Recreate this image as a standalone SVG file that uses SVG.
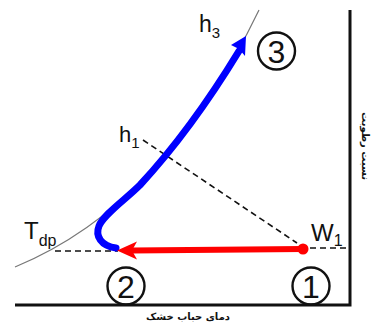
<svg xmlns="http://www.w3.org/2000/svg" width="373" height="326" viewBox="0 0 373 326">
<style>
.lbl{font-family:"Liberation Sans",Arial,sans-serif;fill:#111}
.num{font-family:"Liberation Sans",Arial,sans-serif;font-size:32px;fill:#111;text-anchor:middle}
.fa{font-family:"DejaVu Sans",sans-serif;font-size:10px;font-weight:bold;fill:#111;text-anchor:middle}
.dash{stroke:#111;stroke-width:1.6;stroke-dasharray:6,4;fill:none}
.circ{fill:none;stroke:#111;stroke-width:2.4}
</style>
<rect width="373" height="326" fill="#fff"/>
<g id="axes" fill="none" stroke="#111" stroke-width="3">
<polyline points="15,305 350,305 350,10"/>
</g>
<g id="saturation-curve">
<path d="M15,267 Q165,205 259,10" fill="none" stroke="#777" stroke-width="1.2"/>
</g>
<g id="connectors">
<line class="dash" x1="55" y1="251" x2="118" y2="251"/>
<line class="dash" x1="310" y1="248" x2="347" y2="248"/>
<line class="dash" x1="143" y1="140" x2="297" y2="243"/>
<path d="M116,248 C101,246 95,236 99,226 C104,214 125,200 140,185 C165,158 200,115 239,51" fill="none" stroke="#0000ff" stroke-width="7" stroke-linecap="round"/>
<polygon points="246,36 245,56 239,49 231,45" fill="#0000ff"/>
<line x1="303" y1="249" x2="132" y2="250.5" stroke="#ff0000" stroke-width="6"/>
<polygon points="117,250.5 137,241.5 132,250.5 137,259.5" fill="#ff0000"/>
<circle cx="303" cy="249" r="5.5" fill="#ff0000"/>
</g>
<g id="state-1">
<circle class="circ" cx="311" cy="286" r="18.5"/>
<text class="num" x="311" y="297.5">1</text>
</g>
<g id="state-2">
<circle class="circ" cx="126" cy="286" r="18.5"/>
<text class="num" x="126" y="297.5">2</text>
</g>
<g id="state-3">
<circle class="circ" cx="276.5" cy="51" r="18.5"/>
<text class="num" x="276.5" y="62.5">3</text>
</g>
<g id="labels">
<text class="lbl" x="199" y="32" font-size="23">h<tspan font-size="15" dy="6">3</tspan></text>
<text class="lbl" x="119" y="142" font-size="22">h<tspan font-size="15" dy="6">1</tspan></text>
<text class="lbl" x="311" y="241" font-size="24">W<tspan font-size="16" dy="5">1</tspan></text>
<text class="lbl" x="24" y="239" font-size="24">T<tspan font-size="16" dy="7">dp</tspan></text>
<text class="fa" x="188" y="320">دمای حباب خشک</text>
<text class="fa" font-size="11" transform="translate(362,146) rotate(90)">نسبت رطوبت</text>
</g>
</svg>
